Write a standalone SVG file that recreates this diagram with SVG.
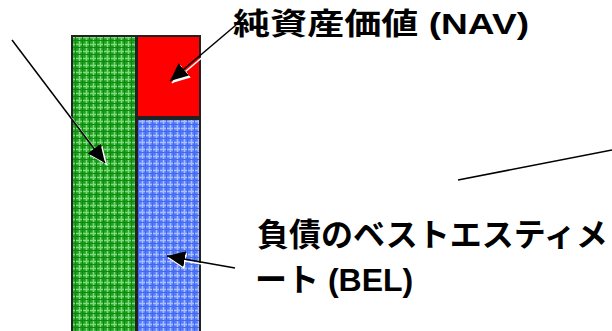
<svg xmlns="http://www.w3.org/2000/svg" width="612" height="331" viewBox="0 0 612 331">
<style>
.lbl{font-family:"Liberation Sans","Noto Sans CJK JP",sans-serif;font-weight:bold;fill:#000}
.t1{font-size:30px}
.t2{font-size:32px}
.bar{stroke:#222;stroke-width:2}
.arr{stroke:#000;stroke-width:1.5;fill:none}
.sh{stroke:#fff;stroke-width:1.5;fill:none}
</style>
<defs>
<pattern id="pg" width="7" height="7" patternUnits="userSpaceOnUse">
<rect width="7" height="7" fill="#1fa01f"/>
<path d="M0 2.5H7M2.5 0V7" stroke="#80da80" stroke-width="1.5"/>
<path d="M0 5.5H7M5.5 0V7" stroke="#0e8a0e" stroke-width="1"/>
</pattern>
<pattern id="pb" width="7" height="7" patternUnits="userSpaceOnUse">
<rect width="7" height="7" fill="#557cf8"/>
<path d="M0 2.5H7M2.5 0V7" stroke="#a9bfff" stroke-width="1.5"/>
<path d="M0 5.5H7M5.5 0V7" stroke="#4468ee" stroke-width="1"/>
</pattern>
<marker id="ah" markerWidth="20" markerHeight="16" refX="18" refY="8" orient="auto" markerUnits="userSpaceOnUse">
<path d="M0 0L18 8L0 16z" fill="#000"/>
</marker>
<marker id="ahw" markerWidth="20" markerHeight="16" refX="18" refY="8" orient="auto" markerUnits="userSpaceOnUse">
<path d="M0 0L18 8L0 16z" fill="#fff"/>
</marker>
</defs>
<g id="assets"><rect class="bar" x="72" y="36" width="64" height="300" fill="url(#pg)"/></g>
<g id="nav"><rect class="bar" x="137" y="36" width="63" height="81" fill="#ff0000"/></g>
<g id="bel"><rect class="bar" x="137" y="119" width="63" height="217" fill="url(#pb)"/></g>
<g id="connectors">
<line class="sh" x1="14" y1="42" x2="107" y2="165" marker-end="url(#ahw)"/>
<line class="arr" x1="12" y1="40" x2="105" y2="163" marker-end="url(#ah)"/>
<line class="sh" x1="238" y1="27" x2="172" y2="83" marker-end="url(#ahw)"/>
<line class="arr" x1="236" y1="25" x2="170" y2="81" marker-end="url(#ah)"/>
<line class="sh" x1="236" y1="270" x2="168" y2="258" marker-end="url(#ahw)"/>
<line class="arr" x1="235" y1="268" x2="167" y2="256" marker-end="url(#ah)"/>
<line class="arr" x1="458" y1="180" x2="612" y2="150"/>
</g>
<g id="label-nav">
<text class="lbl t1" x="233" y="34" textLength="296" lengthAdjust="spacingAndGlyphs">純資産価値 (NAV)</text>
</g>
<g id="label-bel">
<text class="lbl t2" x="257" y="246">負債のベストエスティメ</text>
<text class="lbl t2" x="255" y="291">ート (BEL)</text>
</g>
</svg>
